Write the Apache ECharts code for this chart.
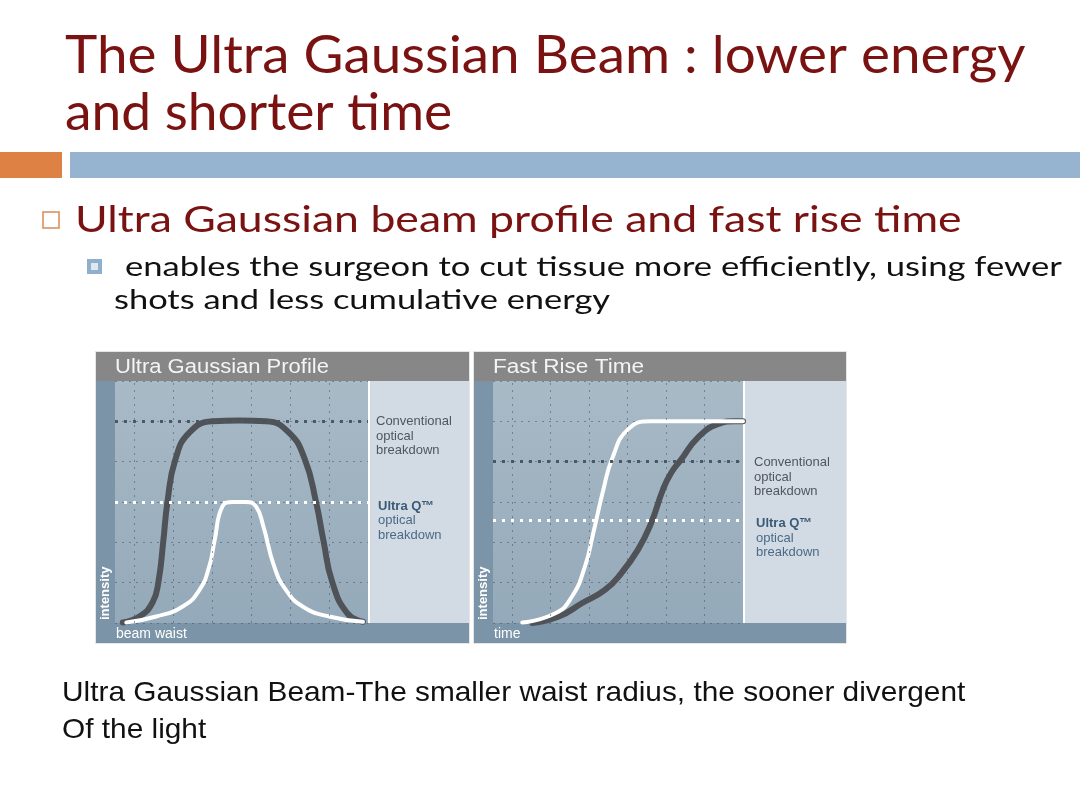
<!DOCTYPE html>
<html>
<head>
<meta charset="utf-8">
<script src="https://cdn.jsdelivr.net/npm/echarts@6/dist/echarts.min.js"></script>
<style>
html,body{margin:0;padding:0;background:#ffffff;}
#chart{width:1080px;height:810px;}
</style>
</head>
<body>
<div id="chart"></div>
<script>
// ---------- data ----------
const titleLines = ['The Ultra Gaussian Beam : lower energy', 'and shorter time'];
const bulletText = 'Ultra Gaussian beam profile and fast rise time';
const subBulletLines = ['enables the surgeon to cut tissue more efficiently, using fewer', 'shots and less cumulative energy'];
const captionLines = ['Ultra Gaussian Beam-The smaller waist radius, the sooner divergent', 'Of the light'];
const panelTitles = ['Ultra Gaussian Profile', 'Fast Rise Time'];
const xAxisNames = ['beam waist', 'time'];
const yAxisName = 'intensity';
const conventionalLabel = ['Conventional', 'optical', 'breakdown'];
const ultraLabel = ['Ultra Q\u2122', 'optical', 'breakdown'];

const gridLinesX = [1, 2, 3, 4, 5, 6];

// Panel 1: Ultra Gaussian Profile (intensity vs beam waist)
const profileConvX = [0.70, 1.13, 1.47, 1.62, 1.74, 1.85, 2.05, 2.41, 3.01, 3.69, 4.38, 4.97, 5.38, 5.66, 5.86, 6.08, 6.47, 6.87];
const profileConvY = [0.01, 0.16, 0.52, 1.05, 2.02, 3.02, 4.05, 4.72, 5.00, 5.02, 5.00, 4.72, 4.05, 3.02, 2.02, 1.02, 0.24, 0.03];
const profileUltraX = [0.79, 1.56, 2.24, 2.67, 2.92, 3.06, 3.26, 3.52, 3.86, 4.12, 4.31, 4.59, 4.89, 5.32, 6.00, 6.87];
const profileUltraY = [0.01, 0.16, 0.41, 0.82, 1.40, 2.05, 2.89, 3.00, 3.00, 2.89, 2.40, 1.40, 0.82, 0.41, 0.16, 0.03];
const profileConvLevel = 5;
const profileUltraLevel = 3;

// Panel 2: Fast Rise Time (intensity vs time)
const riseUltraX = [1.26, 2.12, 2.55, 2.89, 3.10, 3.37, 3.60, 4.01, 4.62, 5.13, 7.0];
const riseUltraY = [0.01, 0.24, 0.65, 1.40, 2.20, 3.31, 4.08, 4.80, 5.00, 5.00, 5.00];
const riseConvX = [1.52, 2.21, 2.81, 3.41, 3.84, 4.27, 4.60, 4.92, 5.13, 5.39, 5.82, 6.34, 6.77, 7.0];
const riseConvY = [0.00, 0.16, 0.49, 0.82, 1.24, 1.82, 2.45, 3.31, 3.72, 4.05, 4.59, 4.93, 5.00, 5.00];
const riseConvLevel = 4;
const riseUltraLevel = 2.55;

// ---------- helpers ----------
const zip = (xs, ys) => xs.map((x, i) => [x, ys[i]]);
const chart = echarts.init(document.getElementById('chart'), null, {renderer: 'canvas'});

const TITLE_COLOR = '#7a1212';
const STRIP = '#7b94a7';
const HEADER = '#878787';
const SIDE = '#d2dbe3';
const plotBg = new echarts.graphic.LinearGradient(0, 0, 0, 1, [
  {offset: 0, color: '#a9bac7'},
  {offset: 1, color: '#94a9b9'}
]);

const panels = [
  {left: 96, right: 469, plotLeft: 115, plotRight: 368},
  {left: 474, right: 846, plotLeft: 493, plotRight: 743}
];
const TOP = 352, HEAD_B = 381, PLOT_B = 623, BOTTOM = 643;

function txt(text, x, y, font, fill, opts) {
  opts = opts || {};
  return {
    type: 'text', silent: true, x: x, y: y,
    scaleX: opts.scaleX || 1, rotation: opts.rotation || 0,
    style: {text: text, x: 0, y: 0, font: font, fill: fill, align: 'left', verticalAlign: 'middle'}
  };
}
function rect(x, y, w, h, fill, z) {
  return {type: 'rect', silent: true, z: z == null ? -10 : z, shape: {x: x, y: y, width: w, height: h}, style: {fill: fill}};
}

const graphics = [];
// header decoration
graphics.push(rect(0, 152, 62, 26, '#dd8144'));
graphics.push(rect(70, 152, 1010, 26, '#96b4cf'));
// title
graphics.push(txt(titleLines[0], 65, 56, '52px Lato', TITLE_COLOR, {scaleX: 1.054}));
graphics.push(txt(titleLines[1], 65, 113, '52px Lato', TITLE_COLOR, {scaleX: 1.025}));
// bullets
graphics.push({type: 'rect', silent: true, shape: {x: 43, y: 212, width: 16, height: 16}, style: {fill: '#fff', stroke: '#d98a55', lineWidth: 1.5}});
graphics.push(txt(bulletText, 75, 220, '36px Lato', TITLE_COLOR, {scaleX: 1.238}));
graphics.push(rect(87, 259, 15, 15, '#8fb0cc', 1));
graphics.push(rect(91, 263, 7, 7, '#dde8f1', 2));
graphics.push(txt(subBulletLines[0], 125, 267, '27px Lato', '#111111', {scaleX: 1.281}));
graphics.push(txt(subBulletLines[1], 114, 300, '27px Lato', '#111111', {scaleX: 1.276}));
// caption
graphics.push(txt(captionLines[0], 62, 693, '28px "Liberation Sans"', '#111111', {scaleX: 1.065}));
graphics.push(txt(captionLines[1], 62, 730, '28px "Liberation Sans"', '#111111', {scaleX: 1.065}));

// panels
panels.forEach((p, i) => {
  graphics.push(rect(p.left - 1, TOP - 1, p.right - p.left + 2, BOTTOM - TOP + 2, '#e4e6e8', -12));
  graphics.push(rect(p.left, TOP, p.right - p.left, HEAD_B - TOP, HEADER));
  graphics.push(rect(p.left, HEAD_B, p.plotLeft - p.left, BOTTOM - HEAD_B, STRIP));
  graphics.push(rect(p.left, PLOT_B, p.right - p.left, BOTTOM - PLOT_B, STRIP));
  graphics.push(rect(p.plotRight, HEAD_B, p.right - p.plotRight, PLOT_B - HEAD_B, SIDE));
  graphics.push(rect(p.plotRight, HEAD_B, 2, PLOT_B - HEAD_B, '#ffffff', -9));
  graphics.push(txt(panelTitles[i], p.plotLeft, 367, '20px "Liberation Sans"', '#f4f4f4', {scaleX: i === 0 ? 1.1 : 1.13}));
  graphics.push(txt(xAxisNames[i], p.plotLeft + 1, 634, '14px "Liberation Sans"', '#ffffff'));
  graphics.push(txt(yAxisName, (p.left + p.plotLeft) / 2, 620, 'bold 13px "Liberation Sans"', '#ffffff', {rotation: Math.PI / 2}));
});
// side labels
const sideLabels = [
  {x: 376, cy: [421.5, 436, 450.5], uy: [506, 520.5, 535], ux: 378},
  {x: 754, cy: [462.5, 477, 491], uy: [523.5, 538, 552.5], ux: 756}
];
sideLabels.forEach(s => {
  conventionalLabel.forEach((t, k) => graphics.push(txt(t, s.x, s.cy[k], '13px "Liberation Sans"', '#4f5660')));
  ultraLabel.forEach((t, k) => graphics.push(txt(t, s.ux, s.uy[k], (k === 0 ? 'bold ' : '') + '13px "Liberation Sans"', k === 0 ? '#3a5a78' : '#4a6b88')));
});

function gridDef(p) {
  return {left: p.plotLeft, top: HEAD_B, width: p.plotRight - p.plotLeft, height: PLOT_B - HEAD_B,
    show: true, backgroundColor: plotBg, borderWidth: 0, containLabel: false};
}
function xAx(i) {
  return {type: 'value', gridIndex: i, min: 0.5, max: 7, axisLine: {show: false}, axisTick: {show: false},
    axisLabel: {show: false}, splitLine: {show: false}};
}
function yAx(i) {
  return {type: 'value', gridIndex: i, min: 0, max: 6, interval: 1, axisLine: {show: false}, axisTick: {show: false},
    axisLabel: {show: false},
    splitLine: {show: true, lineStyle: {color: 'rgba(70,85,100,0.55)', width: 1, type: [2, 5]}}};
}
function refSeries(i, convLevel, ultraLevel) {
  return {
    type: 'line', xAxisIndex: i, yAxisIndex: i, data: [], silent: true, z: 1,
    markLine: {
      silent: true, symbol: 'none', label: {show: false}, animation: false,
      data: gridLinesX.map(v => ({xAxis: v, lineStyle: {color: 'rgba(70,85,100,0.55)', width: 1, type: [2, 5]}}))
        .concat([
          {yAxis: convLevel, lineStyle: {color: '#4a5866', width: 3, type: [3, 6]}},
          {yAxis: ultraLevel, lineStyle: {color: '#ffffff', width: 3, type: [3, 6]}}
        ])
    }
  };
}
function curve(i, data, color, width, z) {
  return {type: 'line', xAxisIndex: i, yAxisIndex: i, data: data, smooth: 0.5,
    showSymbol: false, symbol: 'none', silent: true, z: z,
    lineStyle: {color: color, width: width, cap: 'round', join: 'round'}};
}

chart.setOption({
  animation: false,
  backgroundColor: '#ffffff',
  grid: [gridDef(panels[0]), gridDef(panels[1])],
  xAxis: [xAx(0), xAx(1)],
  yAxis: [yAx(0), yAx(1)],
  graphic: graphics,
  series: [
    refSeries(0, profileConvLevel, profileUltraLevel),
    curve(0, zip(profileConvX, profileConvY), '#4f5358', 6, 3),
    curve(0, zip(profileUltraX, profileUltraY), '#ffffff', 4, 4),
    refSeries(1, riseConvLevel, riseUltraLevel),
    curve(1, zip(riseConvX, riseConvY), '#4f5358', 6, 3),
    curve(1, zip(riseUltraX, riseUltraY), '#ffffff', 4, 4)
  ]
});
</script>
</body>
</html>
